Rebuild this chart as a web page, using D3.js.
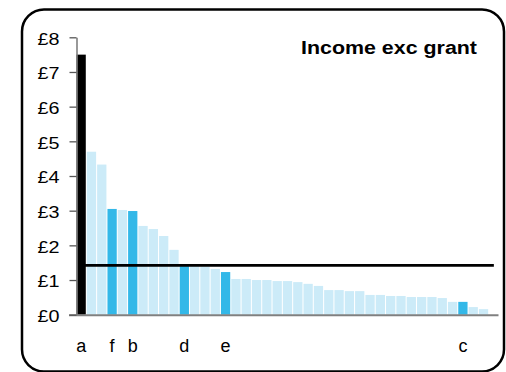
<!DOCTYPE html>
<html>
<head>
<meta charset="utf-8">
<script src="https://cdn.jsdelivr.net/npm/d3@7"></script>
<style>
html,body{margin:0;padding:0;background:#fff;}
svg{display:block;}
text{font-family:"Liberation Sans",Arial,sans-serif;}
</style>
</head>
<body>
<svg id="chart" width="506" height="372"></svg>
<script>
// ---- data ----
const categories = d3.range(1, 42).map(String);
const pointLabels = ["a","","","f","","b","","","","","d","","","","e","","","","","","","","","","","","","","","","","","","","","","","c","","",""];
const values = [7.50,4.70,4.33,3.05,3.02,2.99,2.56,2.47,2.27,1.87,1.40,1.40,1.39,1.32,1.23,1.03,1.03,1.00,1.00,0.97,0.97,0.94,0.89,0.83,0.71,0.71,0.68,0.68,0.57,0.57,0.54,0.54,0.51,0.51,0.51,0.48,0.37,0.37,0.22,0.16,null];
const highlight = ["black","light","light","mid","light","mid","light","light","light","light","mid","light","light","light","mid","light","light","light","light","light","light","light","light","light","light","light","light","light","light","light","light","light","light","light","light","light","light","mid","light","light",""];
const averageValue = 1.42;
const yTicks = [0,1,2,3,4,5,6,7,8];
const title = "Income exc grant";

const colors = {black:"#000000", light:"#CCEBF8", mid:"#33B8E8"};

const svg = d3.select("#chart");

// border
svg.append("rect")
  .attr("x", 22).attr("y", 9.5)
  .attr("width", 482).attr("height", 362)
  .attr("rx", 22).attr("ry", 22)
  .attr("fill", "#fff").attr("stroke", "#000").attr("stroke-width", 2.5);

const x = d3.scaleBand().domain(categories).range([76.5, 498.5]).paddingInner(0.1).paddingOuter(0);
const y = d3.scaleLinear().domain([0, 8]).range([314.7, 37.3]);

// bars
const data = categories.map((c, i) => ({c, v: values[i], h: highlight[i], lab: pointLabels[i]}));
svg.append("g").selectAll("rect").data(data.filter(d => d.v != null)).join("rect")
  .attr("x", d => x(d.c))
  .attr("width", x.bandwidth())
  .attr("y", d => y(d.v))
  .attr("height", d => y(0) - y(d.v))
  .attr("fill", d => colors[d.h]);

// x axis line
svg.append("line")
  .attr("x1", 69).attr("x2", 498.5)
  .attr("y1", y(0) + 0.5).attr("y2", y(0) + 0.5)
  .attr("stroke", "#808080").attr("stroke-width", 2);

// y axis
const yAxis = svg.append("g").attr("transform", "translate(76.5,0)")
  .call(d3.axisLeft(y).tickValues(yTicks).tickFormat(d => "£" + d).tickSize(7).tickPadding(10).tickSizeOuter(0));
yAxis.select(".domain").attr("stroke", "#808080").attr("stroke-width", 1.6);
yAxis.selectAll(".tick line").attr("stroke", "#555").attr("stroke-width", 1.3);
yAxis.selectAll(".tick text")
  .attr("font-size", 17).attr("fill", "#000").attr("dy", "0.4em")
  .attr("textLength", 22).attr("lengthAdjust", "spacingAndGlyphs");

// average line
const line = d3.line().x(d => x(d) + x.bandwidth() / 2).y(() => y(averageValue));
svg.append("path")
  .datum(categories)
  .attr("d", line)
  .attr("fill", "none").attr("stroke", "#000").attr("stroke-width", 2.8);

// category labels
svg.append("g").selectAll("text").data(data.filter(d => d.lab)).join("text")
  .attr("x", d => x(d.c) + x.bandwidth() / 2)
  .attr("y", 352)
  .attr("text-anchor", "middle")
  .attr("font-size", 18)
  .text(d => d.lab);

// title
svg.append("text")
  .attr("x", 301).attr("y", 54)
  .attr("font-size", 18).attr("font-weight", "bold")
  .attr("textLength", 176).attr("lengthAdjust", "spacingAndGlyphs")
  .text(title);
</script>
</body>
</html>
